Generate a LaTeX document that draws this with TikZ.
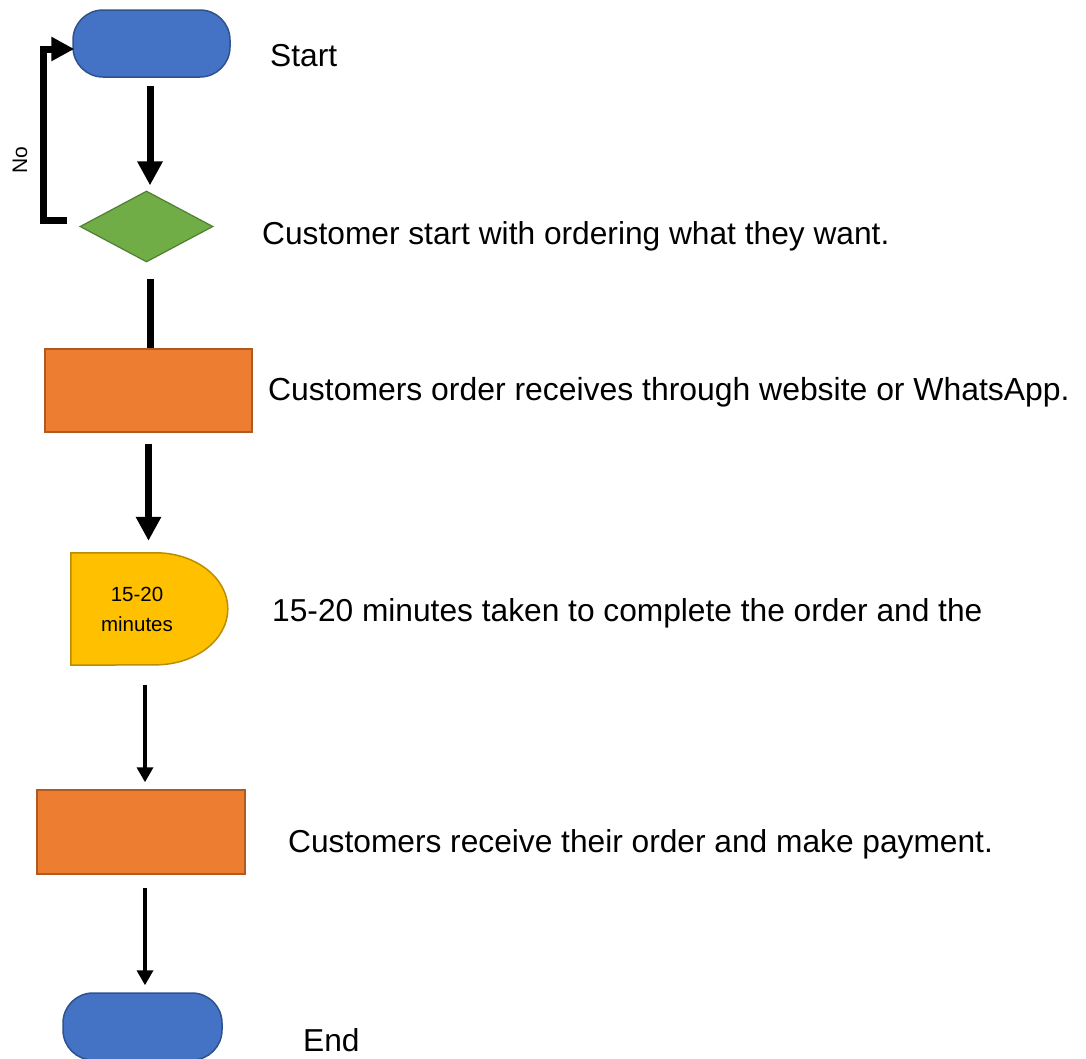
\documentclass[tikz,border=0pt]{standalone}
\usepackage{fontspec}
\setmainfont{Liberation Sans}
\usetikzlibrary{shapes.geometric,arrows.meta,calc}

\definecolor{termblue}{HTML}{4472C4}
\definecolor{termedge}{HTML}{2F528F}
\definecolor{decgreen}{HTML}{70AD47}
\definecolor{decedge}{HTML}{507E32}
\definecolor{procorange}{HTML}{ED7D31}
\definecolor{procedge}{HTML}{AE5A21}
\definecolor{waityellow}{HTML}{FFC000}
\definecolor{waitedge}{HTML}{BC8C00}

\tikzset{
  terminal/.style={draw=termedge, fill=termblue, line width=1.5pt,
    rounded corners=30pt, minimum width=157pt, minimum height=67pt, inner sep=0pt},
  decision/.style={diamond, draw=decedge, fill=decgreen, line width=1.2pt,
    minimum width=133pt, minimum height=71pt, inner sep=0pt, aspect=1.87},
  process/.style={draw=procedge, fill=procorange, line width=1.5pt,
    minimum width=207pt, minimum height=83pt, inner sep=0pt},
  waitframe/.style={minimum width=157pt, minimum height=112pt, inner sep=0pt},
  waitshape/.style={draw=waitedge, fill=waityellow, line width=1.5pt},
  note/.style={anchor=base west, inner sep=0pt, font=\fontsize{31.7}{36}\selectfont},
  heavyflow/.style={line width=7pt, -{Triangle[length=24pt,width=24pt]}},
  heavyline/.style={line width=7pt},
  lightflow/.style={line width=3.5pt, -{Triangle[length=15pt,width=16pt]}},
}

\begin{document}
\begin{tikzpicture}[x=1pt, y=-1pt]
  \useasboundingbox (0,0) rectangle (1086,1058);
  \clip (0,0) rectangle (1086,1058);

  % flowchart shapes
  \node[terminal] (start) at (151.5,43.5) {};
  \node[decision] (dia) at (146.5,226.5) {};
  \node[process] (r1) at (148.5,390.5) {};
  \node[waitframe] (wait) at (149.5,609) {};
  \draw[waitshape] (wait.north west) -- ++(85,0)
    arc[start angle=-90, end angle=90, x radius=72, y radius=56]
    -- (wait.south west) -- cycle;
  \node[align=center, inner sep=0pt, font=\fontsize{20.5}{30}\selectfont]
    (waittext) at (137,609) {15-20\\minutes};
  \node[process, minimum width=208pt, minimum height=84pt] (r2) at (141,832) {};
  \node[terminal, minimum width=159pt] (end) at (142.5,1026.5) {};

  % connectors
  \draw[heavyflow, shorten <=8pt, shorten >=5pt]
    ([xshift=-1.5pt]start.south) -- ([xshift=-1.5pt]start.south |- dia.north);
  \draw[line width=7pt, -{Triangle[length=23pt,width=23pt]}, shorten <=12pt, shorten >=-2pt]
    ([yshift=6.5pt]dia.west) -- ++(-36,0) |- ([yshift=-5.5pt]start.west);
  \draw[heavyline, shorten <=16pt]
    ([xshift=3.5pt]dia.south) -- ([xshift=3.5pt]dia.south |- r1.north);
  \draw[heavyflow, shorten <=11pt, shorten >=12pt]
    (r1.south) -- (r1.south |- wait.north);
  \draw[lightflow, shorten <=20pt, shorten >=7pt]
    ([xshift=-4.5pt]wait.south) -- ([xshift=-4.5pt]wait.south |- r2.north);
  \draw[lightflow, shorten <=13pt, shorten >=7pt]
    ([xshift=4pt]r2.south) -- ([xshift=4pt]r2.south |- end.north);

  % branch label
  \node[rotate=90, inner sep=0pt, font=\fontsize{21}{24}\selectfont]
    (nolabel) at (20,160) {No};

  % step descriptions
  \node[note] (tstart) at (270,66) {Start};
  \node[note] (tdia) at (262,244) {Customer start with ordering what they want.};
  \node[note, font=\fontsize{31.9}{36}\selectfont] (tr1) at (268,400) {Customers order receives through website or WhatsApp.};
  \node[note] (twait) at (272,621) {15-20 minutes taken to complete the order and the};
  \node[note] (tr2) at (288,852) {Customers receive their order and make payment.};
  \node[note] (tend) at (303,1051) {End};
\end{tikzpicture}
\end{document}
